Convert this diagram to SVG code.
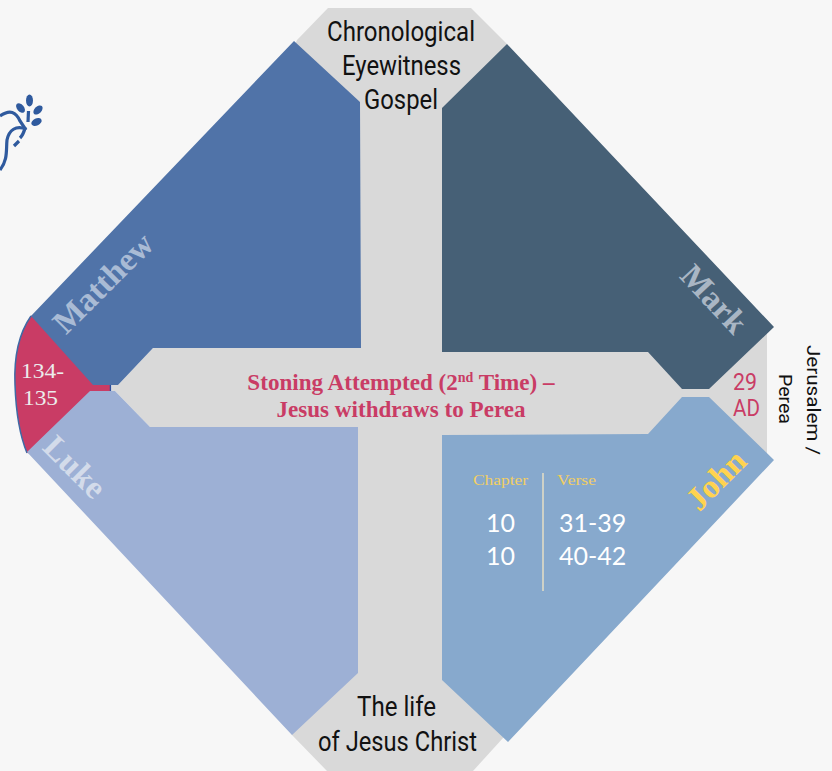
<svg xmlns="http://www.w3.org/2000/svg" width="832" height="771" viewBox="0 0 832 771">
<style>
.c{font-family:"Roboto","Liberation Sans",sans-serif;fill:#111;font-size:27px;text-anchor:start}
.s{font-family:"Liberation Serif",serif;font-weight:bold}
.q{font-size:33px;text-anchor:middle}
.m{fill:#c93c65;font-size:23.100px}
.n{font-family:"Lato","Liberation Sans",sans-serif;font-size:25px;fill:#fff}
.h{font-family:"Liberation Serif",serif;font-size:15.500px;fill:#f2cf63}
</style>
<rect width="832" height="771" fill="#f7f7f7"/>
<g id="background-cross">
<polygon points="328,8 471,8 507,44 507,200 767,330 767,453 503,738 473,771 327,771 292,735 150,427 115,391 112,391 112,385 118,385 153,348 297,40" fill="#d9d9d9"/>
</g>
<g id="connectors"></g>
<g id="year-left">
<path d="M31,316 C17,336 14,362 15,385 C16,414 20,436 27,453 L40,455 L95,395 L110,395 L110,385 L100,380 L40,312 Z" fill="#c93c65"/>
<path d="M31,316 C17,336 14,362 15,385 C16,414 20,436 27,453" fill="none" stroke="#3f6aa5" stroke-width="1.500"/>
<line x1="110.500" y1="385" x2="110.500" y2="391" stroke="#2f4f9a" stroke-width="1.500"/>
</g>
<g id="matthew">
<polygon points="294,41 360,102 361,348 153,348 118,385 93,385 31,316" fill="#5073a8"/>
<text class="s q" transform="translate(103,283) rotate(-45)" y="11" fill="#a9bbd5">Matthew</text>
</g>
<g id="mark">
<polygon points="507,44 774,327 709,389 682,389 648,352 442,352 442,108" fill="#466076"/>
<text class="s q" transform="translate(714,299) rotate(47)" y="11" fill="#a9b6c4">Mark</text>
</g>
<g id="luke">
<polygon points="27,452 90,391 115,391 150,427 358,427 358,673 292,735" fill="#9db0d5"/>
<text class="s q" transform="translate(75,467) rotate(45)" y="11" fill="#d3dbea">Luke</text>
</g>
<g id="john">
<polygon points="442,435 648,434 682,397 709,397 774,460 508,742 442,680" fill="#87a9cd"/>
<text class="s q" transform="translate(716,480) rotate(-45)" y="11" fill="#ffd34f">John</text>
<text class="h" x="473" y="485" textLength="55" lengthAdjust="spacingAndGlyphs">Chapter</text>
<text class="h" x="557" y="485" textLength="39" lengthAdjust="spacingAndGlyphs">Verse</text>
<line x1="543" y1="473" x2="543" y2="591" stroke="#e6dfc4" stroke-width="1.500"/>
<text class="n" x="486" y="532">10</text>
<text class="n" x="559" y="532">31-39</text>
<text class="n" x="486" y="565">10</text>
<text class="n" x="559" y="565">40-42</text>
</g>
<g id="year-left-label">
<text x="21" y="378" font-family="Liberation Serif,serif" font-size="22" fill="#ececec" textLength="43" lengthAdjust="spacingAndGlyphs">134-</text>
<text x="23" y="405" font-family="Liberation Serif,serif" font-size="22" fill="#ececec" textLength="35" lengthAdjust="spacingAndGlyphs">135</text>
</g>
<g id="top-label">
<text class="c" x="327" y="41" textLength="148" lengthAdjust="spacingAndGlyphs">Chronological</text>
<text class="c" x="342" y="75" textLength="119" lengthAdjust="spacingAndGlyphs">Eyewitness</text>
<text class="c" x="364" y="109" textLength="74" lengthAdjust="spacingAndGlyphs">Gospel</text>
</g>
<g id="bottom-label">
<text class="c" x="357" y="716" textLength="79" lengthAdjust="spacingAndGlyphs">The life</text>
<text class="c" x="318" y="751" textLength="159" lengthAdjust="spacingAndGlyphs">of Jesus Christ</text>
</g>
<g id="centre-label">
<text class="s m" x="401" y="390" text-anchor="middle">Stoning Attempted (2<tspan font-size="14" dy="-8">nd</tspan><tspan dy="8"> Time) –</tspan></text>
<text class="s m" x="401" y="417" text-anchor="middle">Jesus withdraws to Perea</text>
</g>
<g id="year-right">
<text class="c" x="733" y="390" style="fill:#c93c65;font-size:23px" textLength="24" lengthAdjust="spacingAndGlyphs">29</text>
<text class="c" x="733" y="416" style="fill:#c93c65;font-size:23px" textLength="27" lengthAdjust="spacingAndGlyphs">AD</text>
</g>
<g id="place">
<text transform="translate(807,345) rotate(90)" font-family="Roboto,'Liberation Sans',sans-serif" font-size="18" fill="#111" textLength="110" lengthAdjust="spacingAndGlyphs">Jerusalem /</text>
<text transform="translate(779,374) rotate(90)" font-family="Roboto,'Liberation Sans',sans-serif" font-size="18" fill="#111" textLength="50" lengthAdjust="spacingAndGlyphs">Perea</text>
</g>
<g id="dove" fill="#2f5a9e">
<ellipse cx="29.500" cy="100.500" rx="3.500" ry="6"/>
<ellipse cx="20.500" cy="108" rx="3.500" ry="5.500" transform="rotate(-40 20.500 108)"/>
<ellipse cx="38" cy="110" rx="3.500" ry="5.500" transform="rotate(45 38 110)"/>
<ellipse cx="36.500" cy="122" rx="3.500" ry="5.500" transform="rotate(65 36.500 122)"/>
<g fill="none" stroke="#2f5a9e" stroke-width="3.200">
<path d="M28.500,111 L28,122"/>
<path d="M0,116 C10,109 16,112 20,121 L26,130"/>
<path d="M26,129 C16,125 9,130 7,140 C6,150 8,160 0,170"/>
<path d="M14,146 L19,141 M20,138 C23,135 24,132 25,128"/>
</g>
</g>
</svg>
